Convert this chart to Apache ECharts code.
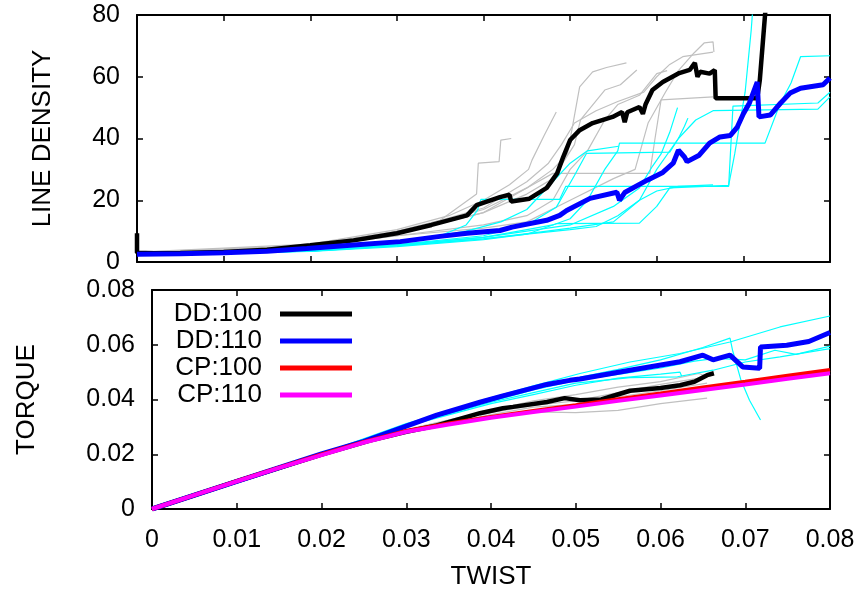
<!DOCTYPE html>
<html>
<head>
<meta charset="utf-8">
<script src="https://cdn.jsdelivr.net/npm/echarts@6/dist/echarts.min.js"></script>
<style>html,body{margin:0;padding:0;background:#fff}#chart{width:863px;height:593px}</style>
</head>
<body>
<div id="chart"></div>
<script>
// ---------- axis ticks ----------
const twistTicks = [0, 0.01, 0.02, 0.03, 0.04, 0.05, 0.06, 0.07, 0.08];
const densityTicks = [0, 20, 40, 60, 80];
const torqueTicks = [0, 0.02, 0.04, 0.06, 0.08];
const legendNames = ['DD:100', 'DD:110', 'CP:100', 'CP:110'];

// ---------- top panel: line density vs twist ----------
const dd100Density = [[0,9.3],[0,3],[0.002,2.8],[0.005,2.9],[0.01,3.2],[0.015,4.0],[0.02,5.4],[0.025,7.0],[0.03,9.3],[0.034,12],[0.0381,15.1],[0.0392,18.4],[0.0419,21],[0.043,21.8],[0.0432,19.6],[0.0453,20.5],[0.0473,24],[0.0485,28.7],[0.0492,34],[0.05,39.5],[0.0511,42.7],[0.0526,45],[0.0549,47],[0.056,48.6],[0.0563,45.3],[0.0566,48.5],[0.058,50.2],[0.0584,48],[0.0587,51],[0.0595,55.7],[0.0607,58.3],[0.0626,61.2],[0.0638,62.2],[0.0644,64.5],[0.0647,60],[0.065,61.6],[0.0661,61],[0.0667,62.2],[0.0668,53],[0.0716,53],[0.0719,59],[0.0725,80],[0.0728,90]];
const dd110Density = [[0,2.5],[0.005,2.7],[0.01,3.0],[0.015,3.5],[0.0196,4.4],[0.025,5.5],[0.0304,6.6],[0.035,8.3],[0.0381,9.3],[0.0419,10.2],[0.0433,11.3],[0.0473,13.5],[0.0488,15.1],[0.0496,16.7],[0.0523,20.6],[0.0554,22.6],[0.0557,20],[0.0563,22.5],[0.0589,26.5],[0.0607,29],[0.0619,32],[0.0625,36.2],[0.0632,34],[0.0635,32.5],[0.0649,34.6],[0.0661,38.5],[0.0673,40.5],[0.0685,41],[0.0693,43.7],[0.07,48],[0.0707,51.5],[0.0716,58.3],[0.0718,47],[0.0731,47.6],[0.0743,51.5],[0.0754,54.7],[0.0766,56.3],[0.0792,57.4],[0.08,59.6]];

const grayDensity1 = [[0,3.2],[0.01,3.5],[0.02,5.5],[0.03,10],[0.035,13.5],[0.0392,22],[0.0394,32],[0.0418,32.5],[0.042,39.5],[0.0432,40]];
const grayDensity2 = [[0,3.2],[0.02,5.8],[0.03,10.5],[0.036,15],[0.04,20],[0.043,25],[0.0452,30],[0.0456,33],[0.047,41],[0.0484,48.6]];
const grayDensity3 = [[0,3],[0.02,5.2],[0.03,9.5],[0.04,17],[0.045,24],[0.048,30],[0.0497,35],[0.0511,56.7],[0.0526,61.6],[0.0542,63],[0.0565,64.5]];
const grayDensity4 = [[0,3],[0.02,5],[0.03,9],[0.04,16],[0.045,22],[0.048,27],[0.0505,38],[0.0512,46],[0.054,55.7],[0.0558,57.4],[0.0577,62.2]];
const grayDensity5 = [[0,3],[0.02,5],[0.03,8.5],[0.04,11],[0.045,13],[0.05,20],[0.055,27],[0.0575,30],[0.059,45],[0.061,55],[0.0625,62],[0.0643,67.7],[0.0655,71],[0.0665,71.3],[0.0666,68]];
const grayDensity6 = [[0,3],[0.02,5],[0.03,9],[0.04,16],[0.045,24],[0.048,28.7],[0.0592,28.7],[0.0598,40],[0.0605,52.5],[0.0665,53.5]];
const grayDensity7 = [[0,3.1],[0.02,5.3],[0.03,9.5],[0.04,17.5],[0.045,26],[0.0475,32],[0.049,38],[0.0505,45],[0.053,49],[0.0555,52],[0.0585,55],[0.06,60],[0.0615,64],[0.063,66.5],[0.0665,68]];
const grayDensity8 = [[0,3],[0.02,5],[0.03,8.5],[0.04,12],[0.045,15],[0.048,20],[0.05,30],[0.052,36],[0.054,46],[0.0555,51],[0.058,54],[0.06,61],[0.0612,62]];

const cyanDensity1 = [[0,2.4],[0.01,2.7],[0.02,3.8],[0.03,6],[0.035,8.5],[0.038,12],[0.0393,16.7],[0.0397,20.3],[0.0488,20.3],[0.0495,24.5],[0.0683,24.5],[0.0688,50.5],[0.0786,51.5],[0.08,55]];
const cyanDensity2 = [[0,2.4],[0.02,3.6],[0.03,5.5],[0.04,8],[0.045,10.5],[0.048,12],[0.05,14],[0.052,20],[0.054,30],[0.0555,36],[0.0557,38.5],[0.0725,38.5],[0.0742,51],[0.0755,58],[0.0766,66.5],[0.08,66.8]];
const cyanDensity3 = [[0,2.4],[0.02,3.5],[0.03,5.3],[0.04,7.5],[0.046,9.5],[0.05,11],[0.055,13],[0.058,20],[0.06,30],[0.0625,40],[0.0645,46],[0.0665,49],[0.0786,49.5],[0.08,53.5]];
const cyanDensity4 = [[0,2.5],[0.02,3.8],[0.03,6.2],[0.038,10],[0.042,13],[0.045,17],[0.048,26],[0.05,32],[0.052,36],[0.0556,37.5]];
const cyanDensity5 = [[0,2.4],[0.02,3.5],[0.03,5.5],[0.04,8],[0.045,10],[0.05,12],[0.055,18],[0.058,24],[0.0595,31],[0.0605,35],[0.0615,42],[0.0624,50]];
const cyanDensity6 = [[0,2.4],[0.02,3.6],[0.03,5.6],[0.04,8.5],[0.045,12],[0.0484,17.7],[0.0505,28],[0.0519,35.2],[0.0615,35.6],[0.0625,40],[0.0632,44],[0.0636,46.6]];
const cyanDensity7 = [[0,2.4],[0.02,3.5],[0.03,5.2],[0.04,7.5],[0.045,9],[0.0484,12.4],[0.058,12.6],[0.06,18],[0.0615,24],[0.0683,24.8],[0.069,35],[0.0702,55],[0.0709,75],[0.0713,90]];
const cyanDensity8 = [[0,2.4],[0.02,3.4],[0.03,5],[0.04,7.2],[0.045,9],[0.05,10.5],[0.053,11.5],[0.0555,15],[0.058,20],[0.06,23],[0.0625,24.5],[0.0665,25]];

// ---------- bottom panel: torque vs twist ----------
const cpTwist = [0,0.005,0.01,0.015,0.02,0.025,0.03,0.035,0.04,0.045,0.05,0.055,0.06,0.065,0.07,0.075,0.08];
const cp100Torque = [0,0.0051,0.0102,0.0151,0.0199,0.0245,0.0285,0.0312,0.0336,0.0358,0.0379,0.0401,0.0422,0.0444,0.0465,0.0487,0.0508];
const cp110Torque = [0,0.0051,0.0101,0.015,0.0197,0.0243,0.0282,0.0309,0.0333,0.0354,0.0374,0.0395,0.0415,0.0435,0.0455,0.0476,0.0496];

const dd100Torque = [[0,0],[0.01,0.0101],[0.02,0.0199],[0.0257,0.025],[0.03,0.0282],[0.0336,0.0305],[0.0387,0.035],[0.0414,0.0368],[0.0426,0.0373],[0.0466,0.0391],[0.0487,0.0405],[0.0505,0.0397],[0.053,0.040],[0.0564,0.0432],[0.06,0.0442],[0.0623,0.0452],[0.064,0.0465],[0.0655,0.0489],[0.0663,0.0496]];
const dd110Torque = [[0,0],[0.01,0.0101],[0.02,0.0201],[0.025,0.0247],[0.03,0.0303],[0.0336,0.0343],[0.0387,0.039],[0.0414,0.0413],[0.0466,0.0455],[0.0493,0.047],[0.0505,0.0475],[0.0564,0.0507],[0.0623,0.0538],[0.065,0.0562],[0.0662,0.0545],[0.0682,0.0562],[0.0697,0.0519],[0.0717,0.0514],[0.0718,0.0592],[0.0749,0.0598],[0.0775,0.0612],[0.08,0.0645]];

const grayTorque1 = [[0,0],[0.02,0.0199],[0.03,0.0285],[0.04,0.034],[0.045,0.0355],[0.05,0.0352],[0.055,0.036],[0.06,0.0385],[0.0655,0.0405]];
const grayTorque2 = [[0,0],[0.02,0.0199],[0.03,0.0288],[0.04,0.0352],[0.045,0.0378],[0.05,0.0395],[0.055,0.0425],[0.06,0.0455],[0.065,0.048],[0.0662,0.049]];
const grayTorque3 = [[0,0],[0.02,0.02],[0.03,0.029],[0.04,0.036],[0.045,0.0395],[0.05,0.0418],[0.055,0.0445],[0.06,0.0465],[0.0645,0.0495],[0.0655,0.0485]];
const grayTorque4 = [[0,0],[0.02,0.0199],[0.03,0.0284],[0.04,0.0345],[0.045,0.0372],[0.05,0.0382],[0.055,0.041],[0.06,0.0432],[0.0655,0.046]];

const cyanTorque1 = [[0,0],[0.02,0.0202],[0.03,0.0308],[0.0387,0.0395],[0.045,0.045],[0.0505,0.0495],[0.0564,0.0537],[0.0623,0.0568],[0.0682,0.061],[0.0741,0.0665],[0.08,0.0705]];
const cyanTorque2 = [[0,0],[0.02,0.0201],[0.03,0.0305],[0.04,0.039],[0.045,0.0425],[0.05,0.046],[0.0564,0.048],[0.062,0.0483],[0.0662,0.0507],[0.07,0.0537],[0.0741,0.0556],[0.08,0.0586]];
const cyanTorque3 = [[0,0],[0.02,0.0202],[0.03,0.0312],[0.04,0.040],[0.045,0.044],[0.05,0.0478],[0.055,0.051],[0.06,0.0545],[0.065,0.059],[0.0682,0.0624],[0.0685,0.058],[0.0695,0.047],[0.0705,0.0397],[0.0718,0.0325]];
const cyanTorque4 = [[0,0],[0.02,0.0201],[0.03,0.0303],[0.04,0.0385],[0.045,0.0418],[0.05,0.0452],[0.055,0.0478],[0.06,0.0493],[0.0623,0.050],[0.0625,0.0485]];
const cyanTorque5 = [[0,0],[0.02,0.0201],[0.03,0.0306],[0.04,0.0393],[0.045,0.0435],[0.05,0.047],[0.055,0.0492],[0.06,0.0515],[0.064,0.054],[0.0665,0.055],[0.07,0.0545],[0.0735,0.058],[0.076,0.0565],[0.08,0.0595]];

// ---------- build ----------
const FONT = 'Liberation Sans, Arial, Helvetica, sans-serif';
const GRAY = '#c0c0c0', CYAN = '#00ffff';

function thin(data, color, xi, yi) {
  return { type: 'line', xAxisIndex: xi, yAxisIndex: yi, data: data, showSymbol: false, silent: true,
    color: color, lineStyle: { color: color, width: 1.2 } };
}
function thick(name, data, color, width, xi, yi) {
  return { type: 'line', name: name, xAxisIndex: xi, yAxisIndex: yi, data: data, showSymbol: false,
    color: color, itemStyle: { color: color }, lineStyle: { color: color, width: width } };
}
function xAx(grid, pos, labels, extra) {
  return Object.assign({ type: 'value', gridIndex: grid, position: pos,
    min: twistTicks[0], max: twistTicks[twistTicks.length - 1], interval: 0.01,
    axisLine: { show: true, onZero: false, lineStyle: { color: '#000', width: 2 } },
    axisTick: { show: true, inside: true, length: 6, lineStyle: { color: '#000', width: 1.5 } },
    axisLabel: { show: labels, color: '#000', fontSize: 25, fontFamily: FONT, margin: 19 },
    splitLine: { show: false } }, extra || {});
}
function yAx(grid, pos, labels, min, max, interval, extra) {
  return Object.assign({ type: 'value', gridIndex: grid, position: pos, min: min, max: max, interval: interval,
    axisLine: { show: true, onZero: false, lineStyle: { color: '#000', width: 2 } },
    axisTick: { show: true, inside: true, length: 6, lineStyle: { color: '#000', width: 1.5 } },
    axisLabel: { show: labels, color: '#000', fontSize: 25, fontFamily: FONT, margin: 17 },
    splitLine: { show: false } }, extra || {});
}

const series = [];
[grayDensity1, grayDensity2, grayDensity3, grayDensity4, grayDensity5, grayDensity6, grayDensity7, grayDensity8]
  .forEach(d => series.push(thin(d, GRAY, 0, 0)));
[cyanDensity1, cyanDensity2, cyanDensity3, cyanDensity4, cyanDensity5, cyanDensity6, cyanDensity7, cyanDensity8]
  .forEach(d => series.push(thin(d, CYAN, 0, 0)));
series.push(thick('DD:100 density', dd100Density, '#000000', 4.5, 0, 0));
series.push(thick('DD:110 density', dd110Density, '#0000ff', 5, 0, 0));

[grayTorque1, grayTorque2, grayTorque3, grayTorque4].forEach(d => series.push(thin(d, GRAY, 2, 2)));
[cyanTorque1, cyanTorque2, cyanTorque3, cyanTorque4, cyanTorque5].forEach(d => series.push(thin(d, CYAN, 2, 2)));
series.push(thick(legendNames[0], dd100Torque, '#000000', 4.5, 2, 2));
series.push(thick(legendNames[1], dd110Torque, '#0000ff', 5, 2, 2));
series.push(thick(legendNames[2], cpTwist.map((x, i) => [x, cp100Torque[i]]), '#ff0000', 4, 2, 2));
series.push(thick(legendNames[3], cpTwist.map((x, i) => [x, cp110Torque[i]]), '#ff00ff', 4, 2, 2));

const option = {
  animation: false,
  backgroundColor: '#ffffff',
  textStyle: { fontFamily: FONT },
  grid: [
    { left: 137, top: 15, width: 693, height: 247, containLabel: false },
    { left: 152, top: 290, width: 678, height: 219, containLabel: false }
  ],
  xAxis: [
    xAx(0, 'bottom', false),
    xAx(0, 'top', false),
    xAx(1, 'bottom', true, { name: 'TWIST', nameLocation: 'middle', nameGap: 55,
      nameTextStyle: { color: '#000', fontSize: 26, fontFamily: FONT } }),
    xAx(1, 'top', false)
  ],
  yAxis: [
    yAx(0, 'left', true, densityTicks[0], densityTicks[densityTicks.length - 1], 20,
      { name: 'LINE DENSITY', nameLocation: 'middle', nameGap: 81, nameRotate: 90,
        nameTextStyle: { color: '#000', fontSize: 26, fontFamily: FONT } }),
    yAx(0, 'right', false, 0, 80, 20),
    yAx(1, 'left', true, torqueTicks[0], torqueTicks[torqueTicks.length - 1], 0.02,
      { name: 'TORQUE', nameLocation: 'middle', nameGap: 112, nameRotate: 90,
        nameTextStyle: { color: '#000', fontSize: 26, fontFamily: FONT } }),
    yAx(1, 'right', false, 0, 0.08, 0.02)
  ],
  legend: {
    data: legendNames,
    orient: 'vertical',
    align: 'right',
    right: 506,
    top: 296,
    itemWidth: 72,
    itemHeight: 5,
    itemGap: 1,
    icon: 'rect',
    selectedMode: false,
    textStyle: { color: '#000', fontSize: 26, lineHeight: 26, fontFamily: FONT, padding: [0, 13, 0, 0] }
  },
  series: series
};

const chart = echarts.init(document.getElementById('chart'), null, { renderer: 'canvas' });
chart.setOption(option);
</script>
</body>
</html>
